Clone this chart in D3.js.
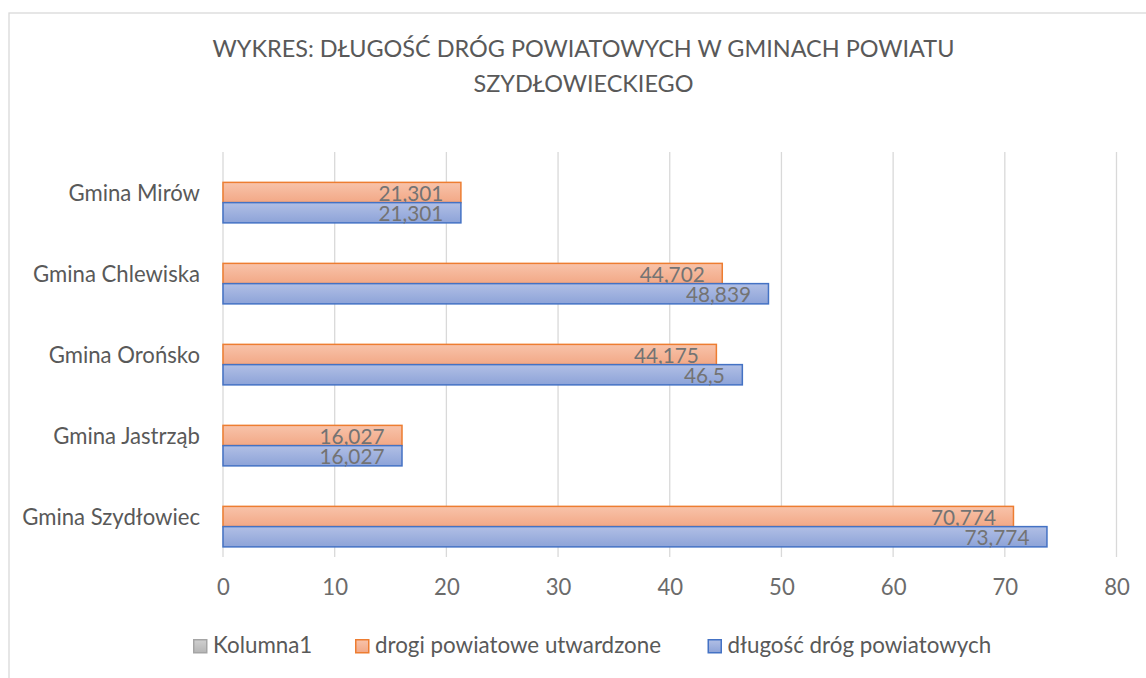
<!DOCTYPE html>
<html><head><meta charset="utf-8">
<script src="https://cdn.jsdelivr.net/npm/d3@7"></script>
<style>html,body{margin:0;padding:0;background:#fff;overflow:hidden}</style>
</head><body>
<svg id="c" width="1146" height="678"></svg>
<script>
const categories = ["Gmina Szydłowiec","Gmina Jastrząb","Gmina Orońsko","Gmina Chlewiska","Gmina Mirów"];
const seriesNames = ["Kolumna1","drogi powiatowe utwardzone","długość dróg powiatowych"];
const kolumna1 = [null,null,null,null,null];
const utwardzone = [70.774,16.027,44.175,44.702,21.301];
const dlugosc = [73.774,16.027,46.5,48.839,21.301];
const xTicks = [0,10,20,30,40,50,60,70,80];
const titleLines = ["WYKRES: DŁUGOŚĆ DRÓG POWIATOWYCH W GMINACH POWIATU","SZYDŁOWIECKIEGO"];

const FONT = "Lato, 'Open Sans', sans-serif";
const svg = d3.select("#c");

function fit(text, target){
  const t = svg.append("text").attr("font-family",FONT).attr("font-size",100).text(text);
  const w = t.node().getComputedTextLength(); t.remove();
  return 100*target/w;
}
const fsLegend = fit("drogi powiatowe utwardzone",286);
const fsCat = fit("Gmina Chlewiska",167);
const fsLabel = fit("21,301",65);
const fsTitle = fit(titleLines[0],742);

const defs = svg.append("defs");
function grad(id, top, bottom){
  const g = defs.append("linearGradient").attr("id",id).attr("x1",0).attr("y1",0).attr("x2",0).attr("y2",1);
  g.append("stop").attr("offset","0%").attr("stop-color",top);
  g.append("stop").attr("offset","100%").attr("stop-color",bottom);
}
grad("gO","#f8c3aa","#f2a886");
grad("gB","#b1bfe5","#8da3d8");
grad("gG","#d0d0d0","#b5b5b5");

const colors = {
  "Kolumna1":{fill:"url(#gG)",stroke:"#a5a5a5"},
  "drogi powiatowe utwardzone":{fill:"url(#gO)",stroke:"#ed7d31"},
  "długość dróg powiatowych":{fill:"url(#gB)",stroke:"#4472c4"}
};

// chart border
svg.append("rect").attr("x",9).attr("y",13).attr("width",1200).attr("height",700)
  .attr("fill","none").attr("stroke","#d9d9d9").attr("stroke-width",1.3);

// title
svg.append("g").selectAll("text").data(titleLines).join("text")
  .attr("x",583.5).attr("y",(d,i)=>57.3+i*35)
  .attr("text-anchor","middle").attr("font-family",FONT).attr("font-size",fsTitle)
  .attr("fill","#595959").text(d=>d);

const x = d3.scaleLinear().domain([0,80]).range([223,1116.5]);
const yOrder = categories.slice().reverse();
const y = d3.scaleBand().domain(yOrder).range([152,557]).padding(0);
const ys = d3.scaleBand().domain(seriesNames).range([0,y.bandwidth()]).paddingInner(0).paddingOuter(0.5);

// gridlines
svg.append("g").selectAll("line").data(xTicks).join("line")
  .attr("x1",d=>x(d)).attr("x2",d=>x(d)).attr("y1",152).attr("y2",557)
  .attr("stroke","#d9d9d9").attr("stroke-width",1.3);

// x axis labels
const xAxis = d3.axisBottom(x).tickValues(xTicks).tickSize(0).tickPadding(0).tickFormat(d3.format("d"));
const gx = svg.append("g").attr("transform","translate(0,557)").call(xAxis);
gx.select(".domain").remove();
gx.selectAll("text").attr("font-family",FONT).attr("font-size",fsCat).attr("fill","#6b6b6b")
  .attr("dy",null).attr("y",38);

// category labels
const yAxis = d3.axisLeft(y).tickSize(0).tickPadding(0);
const gy = svg.append("g").attr("transform","translate(200,0)").call(yAxis);
gy.select(".domain").remove();
gy.selectAll("text").attr("font-family",FONT).attr("font-size",fsCat).attr("fill","#595959")
  .attr("dy",null).attr("x",0).attr("y",8.3);

// bars
const seriesData = [
  {name:seriesNames[0], values:kolumna1},
  {name:seriesNames[1], values:utwardzone},
  {name:seriesNames[2], values:dlugosc}
];
const fmt = v => String(v).replace(".",",");
seriesData.forEach(s=>{
  const recs = categories.map((c,i)=>({c, v:s.values[i]})).filter(d=>d.v!=null);
  const g = svg.append("g");
  g.selectAll("rect").data(recs).join("rect")
    .attr("x",x(0)).attr("y",d=>y(d.c)+ys(s.name))
    .attr("width",d=>x(d.v)-x(0)).attr("height",ys.bandwidth())
    .attr("fill",colors[s.name].fill).attr("stroke",colors[s.name].stroke).attr("stroke-width",1.5);
  g.selectAll("text").data(recs).join("text")
    .attr("x",d=>x(d.v)-17.5).attr("y",d=>y(d.c)+ys(s.name)+ys.bandwidth()/2+0.36*fsLabel+1)
    .attr("text-anchor","end").attr("font-family",FONT).attr("font-size",fsLabel)
    .attr("fill","#737373").text(d=>fmt(d.v));
});

// legend
const legendX = [193,355,707.5];
const lg = svg.append("g").selectAll("g").data(seriesNames).join("g")
  .attr("transform",(d,i)=>`translate(${legendX[i]},639)`);
lg.append("rect").attr("x",0.75).attr("y",0.75).attr("width",13).attr("height",13)
  .attr("fill",d=>colors[d].fill).attr("stroke",d=>colors[d].stroke).attr("stroke-width",1.5);
lg.append("text").attr("x",20).attr("y",14).attr("font-family",FONT).attr("font-size",fsLegend)
  .attr("fill","#595959").text(d=>d);
</script>
</body></html>
